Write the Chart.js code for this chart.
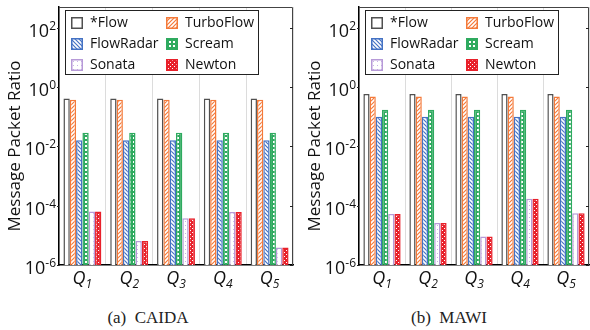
<!DOCTYPE html>
<html>
<head>
<meta charset="utf-8">
<script src="https://cdn.jsdelivr.net/npm/chart.js@4.4.0/dist/chart.umd.min.js"></script>
<style>
body { margin: 0; background: #fff; width: 590px; height: 330px; overflow: hidden; position: relative; }
.panel { position: absolute; top: 0; height: 330px; }
.cap { position: absolute; top: 307px; left: 0; right: 0; text-align: center; font: 17px 'Liberation Serif', serif; line-height: 22px; color: #222; }
</style>
</head>
<body>
<div class="panel" style="left:0;width:300px">
  <canvas id="caida" width="300" height="300"></canvas>
  <div class="cap" style="padding-right:4px">(a)&nbsp; CAIDA</div>
</div>
<div class="panel" style="left:300px;width:290px">
  <canvas id="mawi" width="290" height="300"></canvas>
  <div class="cap" style="padding-left:8px">(b)&nbsp; MAWI</div>
</div>
<script>
var categories = ['Q1', 'Q2', 'Q3', 'Q4', 'Q5'];
var seriesNames = ['*Flow', 'TurboFlow', 'FlowRadar', 'Scream', 'Sonata', 'Newton'];
var yTicks = [1e-6, 1e-4, 1e-2, 1, 1e2];
var yTitle = 'Message Packet Ratio';

// (a) CAIDA
var caidaStarFlow  = [0.41, 0.41, 0.41, 0.41, 0.41];
var caidaTurboFlow = [0.37, 0.37, 0.37, 0.37, 0.37];
var caidaFlowRadar = [0.016, 0.016, 0.016, 0.016, 0.016];
var caidaScream    = [0.029, 0.029, 0.029, 0.029, 0.029];
var caidaSonata    = [6.4e-5, 6.5e-6, 3.8e-5, 6.1e-5, 3.9e-6];
var caidaNewton    = [6.4e-5, 6.5e-6, 3.8e-5, 6.1e-5, 3.9e-6];

// (b) MAWI
var mawiStarFlow  = [0.58, 0.58, 0.58, 0.58, 0.58];
var mawiTurboFlow = [0.48, 0.48, 0.48, 0.48, 0.48];
var mawiFlowRadar = [0.10, 0.10, 0.10, 0.10, 0.10];
var mawiScream    = [0.17, 0.17, 0.17, 0.17, 0.17];
var mawiSonata    = [5.2e-5, 2.6e-5, 9.1e-6, 1.7e-4, 5.6e-5];
var mawiNewton    = [5.2e-5, 2.6e-5, 9.1e-6, 1.7e-4, 5.6e-5];

Chart.defaults.font.family = "'Open Sans', sans-serif";

function pattern(kind, color) {
    var c = document.createElement('canvas');
    c.width = 4; c.height = 4;
    var g = c.getContext('2d');
    if (kind == 'fwd' || kind == 'back') {
        g.fillStyle = '#fff'; g.fillRect(0, 0, 4, 4);
        g.strokeStyle = color; g.lineWidth = 1.2;
        g.beginPath();
        if (kind == 'fwd') {
            g.moveTo(0, 4); g.lineTo(4, 0); g.moveTo(-1, 1); g.lineTo(1, -1); g.moveTo(3, 5); g.lineTo(5, 3);
        } else {
            g.moveTo(0, 0); g.lineTo(4, 4); g.moveTo(-1, 3); g.lineTo(1, 5); g.moveTo(3, -1); g.lineTo(5, 1);
        }
        g.stroke();
    } else if (kind == 'cross') {
        g.fillStyle = color; g.fillRect(0, 0, 4, 4);
        g.fillStyle = '#fff'; g.fillRect(1, 1, 2, 2);
    } else if (kind == 'checker') {
        g.fillStyle = color; g.fillRect(0, 0, 4, 4);
        g.fillStyle = '#fff'; g.fillRect(0, 0, 1, 1); g.fillRect(2, 2, 1, 1);
    } else if (kind == 'dots') {
        g.fillStyle = '#fff'; g.fillRect(0, 0, 4, 4);
        g.fillStyle = color; g.fillRect(1, 1, 1, 1);
    } else {
        return '#fff';
    }
    return g.createPattern(c, 'repeat');
}

var styles = [
    { border: '#505050', fill: pattern('none') },
    { border: '#f47a3a', fill: pattern('fwd', '#f47a3a') },
    { border: '#4472c4', fill: pattern('back', '#4472c4') },
    { border: '#2eaa5f', fill: pattern('cross', '#2eaa5f') },
    { border: '#b79ad8', fill: pattern('dots', '#c9b3e6') },
    { border: '#e8202a', fill: pattern('checker', '#e8202a') }
];

var frame = {
    id: 'frame',
    afterDraw: function (chart) {
        var ctx = chart.ctx, a = chart.chartArea, y = chart.scales.y, x = chart.scales.x;
        ctx.save();
        // top + right border
        ctx.strokeStyle = '#444'; ctx.lineWidth = 1;
        ctx.beginPath();
        ctx.moveTo(a.left, a.top + 0.5); ctx.lineTo(a.right - 0.5, a.top + 0.5); ctx.lineTo(a.right - 0.5, a.bottom);
        ctx.stroke();
        // y ticks and 10^n labels
        yTicks.forEach(function (v) {
            var py = Math.round(y.getPixelForValue(v)) + 0.5;
            ctx.strokeStyle = '#222';
            ctx.beginPath();
            ctx.moveTo(a.left - 2, py); ctx.lineTo(a.left, py);
            ctx.moveTo(a.right - 3, py); ctx.lineTo(a.right, py);
            ctx.stroke();
            var es = String(Math.round(Math.log10(v)));
            ctx.fillStyle = '#111';
            ctx.textAlign = 'right'; ctx.textBaseline = 'alphabetic';
            ctx.font = "12px 'Open Sans'";
            var ew = ctx.measureText(es).width;
            ctx.fillText(es, a.left - 3, py + 1);
            ctx.font = "18px 'Open Sans'";
            ctx.fillText('10', a.left - 3 - ew, py + 8);
        });
        // y title
        ctx.save();
        ctx.translate(15, (a.top + a.bottom) / 2 + 10);
        ctx.rotate(-Math.PI / 2);
        ctx.font = "17px 'Open Sans'";
        ctx.fillStyle = '#111';
        ctx.textAlign = 'center'; ctx.textBaseline = 'middle';
        ctx.fillText(yTitle, 0, 0);
        ctx.restore();
        // x labels Q with subscript
        categories.forEach(function (lab, i) {
            var px = x.getPixelForTick(i);
            ctx.textAlign = 'left'; ctx.textBaseline = 'alphabetic';
            ctx.font = "italic 18px 'Open Sans'";
            var qw = ctx.measureText(lab[0]).width;
            ctx.font = "italic 12px 'Open Sans'";
            var sw = ctx.measureText(lab.slice(1)).width;
            var x0 = px - (qw + sw) / 2;
            ctx.fillStyle = '#111';
            ctx.font = "italic 18px 'Open Sans'";
            ctx.fillText(lab[0], x0, a.bottom + 19);
            ctx.font = "italic 12px 'Open Sans'";
            ctx.fillText(lab.slice(1), x0 + qw, a.bottom + 23);
        });
        // legend box
        var lx = a.left + 6, ly = a.top + 3;
        ctx.fillStyle = '#fff';
        ctx.fillRect(lx, ly, 193, 64);
        ctx.strokeStyle = '#222'; ctx.lineWidth = 1;
        ctx.strokeRect(lx + 0.5, ly + 0.5, 193, 64);
        chart.data.datasets.forEach(function (ds, i) {
            var col = i % 2, row = Math.floor(i / 2);
            var sx = a.left + (col ? 107 : 12), cy = a.top + 16 + row * 21;
            ctx.fillStyle = ds.backgroundColor;
            ctx.fillRect(sx, cy - 6, 12, 12);
            ctx.strokeStyle = ds.borderColor; ctx.lineWidth = 1.5;
            ctx.strokeRect(sx + 0.75, cy - 5.25, 10.5, 10.5);
            ctx.fillStyle = '#111';
            ctx.font = "14px 'Open Sans'";
            ctx.textAlign = 'left'; ctx.textBaseline = 'middle';
            ctx.fillText(ds.label, sx + 19, cy);
        });
        ctx.restore();
    }
};

function makeChart(id, series, padRight) {
    var datasets = series.map(function (vals, i) {
        return {
            label: seriesNames[i],
            data: vals,
            backgroundColor: styles[i].fill,
            borderColor: styles[i].border,
            borderWidth: 1.5,
            categoryPercentage: 0.81,
            barPercentage: 1.0
        };
    });
    return new Chart(document.getElementById(id), {
        type: 'bar',
        data: { labels: categories, datasets: datasets },
        options: {
            responsive: false,
            animation: false,
            layout: { padding: { top: 7, right: padRight, left: 0, bottom: 0 } },
            plugins: { legend: { display: false }, tooltip: { enabled: false } },
            scales: {
                x: {
                    grid: { color: '#dcdcdc', offset: true, drawTicks: false },
                    border: { color: '#000', width: 1.5 },
                    ticks: { display: false },
                    afterFit: function (s) { s.height = 35; }
                },
                y: {
                    type: 'logarithmic',
                    min: 1e-6,
                    max: 500,
                    grid: { display: false },
                    border: { color: '#000', width: 1.5 },
                    ticks: { display: false },
                    afterBuildTicks: function (s) { s.ticks = yTicks.map(function (v) { return { value: v }; }); },
                    afterFit: function (s) { s.width = 59; }
                }
            }
        },
        plugins: [frame]
    });
}

makeChart('caida', [caidaStarFlow, caidaTurboFlow, caidaFlowRadar, caidaScream, caidaSonata, caidaNewton], 7);
makeChart('mawi', [mawiStarFlow, mawiTurboFlow, mawiFlowRadar, mawiScream, mawiSonata, mawiNewton], 1);
</script>
</body>
</html>
